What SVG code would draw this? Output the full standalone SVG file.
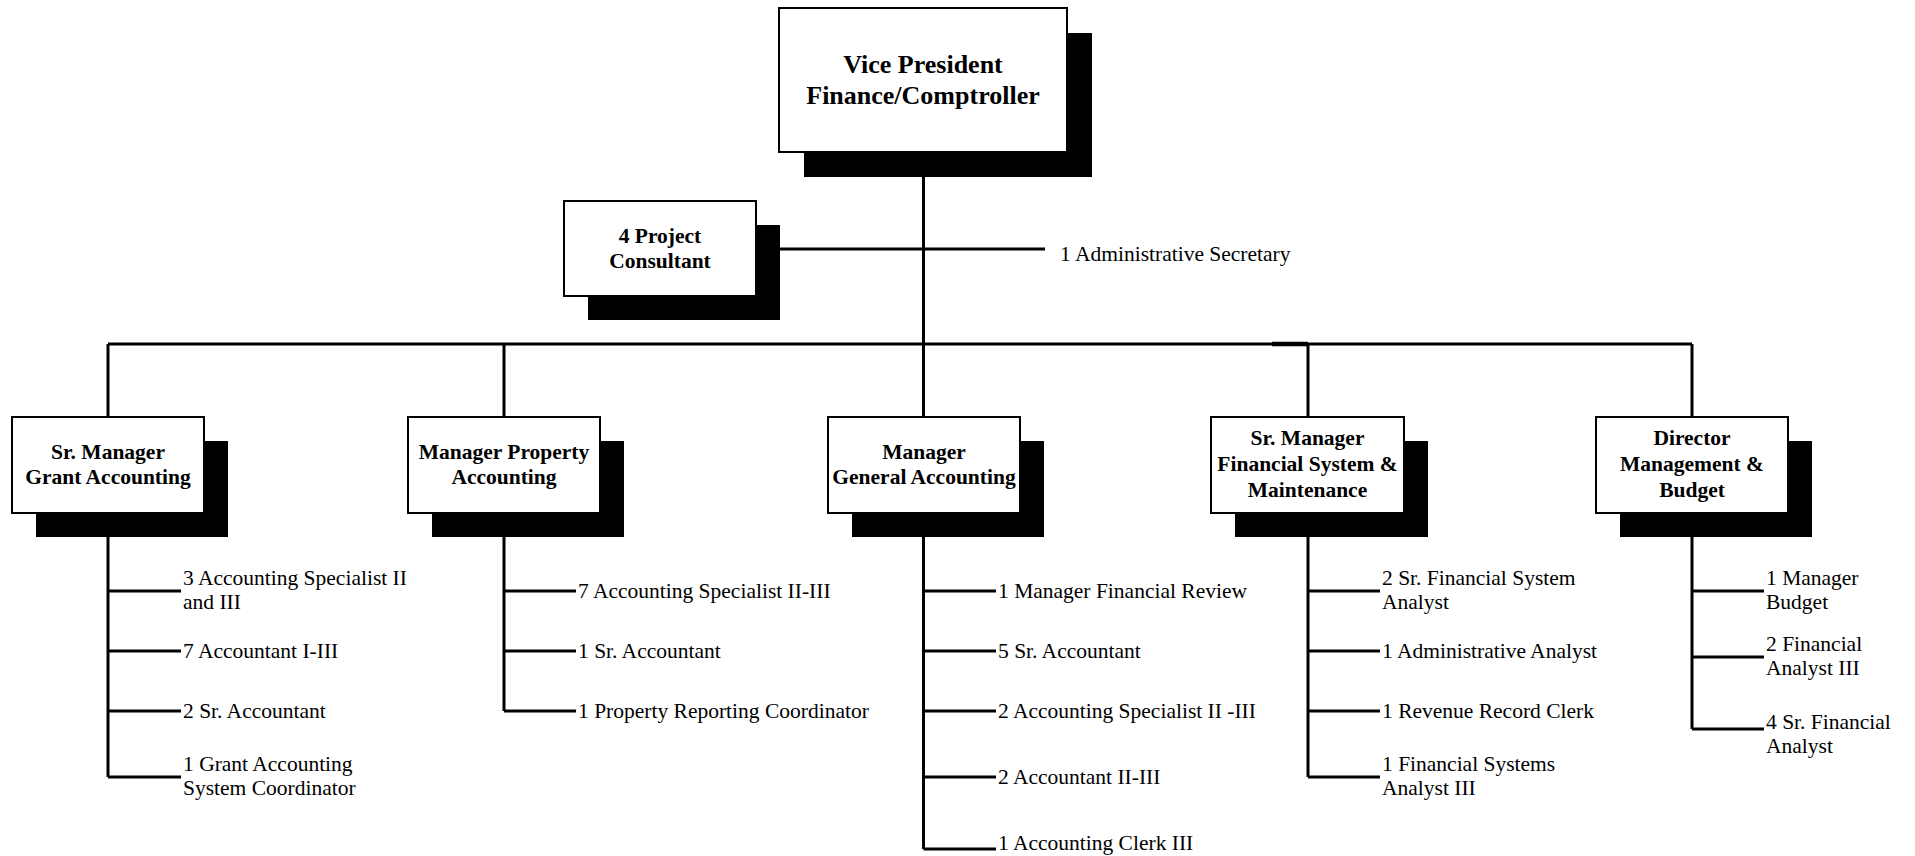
<svg xmlns="http://www.w3.org/2000/svg" width="1915" height="856" viewBox="0 0 1915 856">
  <style>
    .box { fill: #ffffff; stroke: #000000; stroke-width: 2; }
    .shadow { fill: #000000; }
    .line { fill: none; stroke: #000000; stroke-width: 3; stroke-linecap: butt; }
    .title { font-family: "Liberation Serif", "Times New Roman", serif; font-weight: bold; font-size: 21.5px; fill: #000; text-anchor: middle; }
    .top { font-size: 26px; }
    .item { font-family: "Liberation Serif", "Times New Roman", serif; font-size: 21.5px; fill: #000; }
  </style>
  <rect width="1915" height="856" fill="#ffffff"/>

  <!-- connectors -->
  <g id="connectors">
    <path class="line" d="M923.5 152 V344"/>
    <path class="line" d="M780 249 H1045"/>
    <path class="line" d="M108 344 H1692"/>
    <path class="line" style="stroke-width:4.5" d="M1272 344 H1308"/>
    <path class="line" d="M108 344 V417 M504 344 V417 M923.5 344 V417 M1308 344 V417 M1692 344 V417"/>
    <!-- Grant Accounting staff -->
    <path class="line" d="M108 513 V777 M108 591 H181 M108 651 H181 M108 711 H181 M108 777 H181"/>
    <!-- Property Accounting staff -->
    <path class="line" d="M504 513 V711 M504 591 H576 M504 651 H576 M504 711 H576"/>
    <!-- General Accounting staff -->
    <path class="line" d="M923.5 513 V849 M923.5 591 H996 M923.5 651 H996 M923.5 711 H996 M923.5 777 H996 M923.5 849 H996"/>
    <!-- Financial System staff -->
    <path class="line" d="M1308 513 V777 M1308 591 H1380 M1308 651 H1380 M1308 711 H1380 M1308 777 H1380"/>
    <!-- Management & Budget staff -->
    <path class="line" d="M1692 513 V729 M1692 591 H1764 M1692 657 H1764 M1692 729 H1764"/>
  </g>

  <g id="vp">
    <rect class="shadow" x="804" y="33" width="288" height="144"/>
    <rect class="box" x="779" y="8" width="288" height="144"/>
    <text class="title top" x="923" y="73">Vice President</text>
    <text class="title top" x="923" y="104">Finance/Comptroller</text>
  </g>

  <g id="project-consultant">
    <rect class="shadow" x="588" y="225" width="192" height="95"/>
    <rect class="box" x="564" y="201" width="192" height="95"/>
    <text class="title" x="660" y="243">4 Project</text>
    <text class="title" x="660" y="268">Consultant</text>
  </g>

  <g id="admin-secretary">
    <text class="item" x="1060" y="261">1 Administrative Secretary</text>
  </g>

  <g id="grant-accounting">
    <rect class="shadow" x="36" y="441" width="192" height="96"/>
    <rect class="box" x="12" y="417" width="192" height="96"/>
    <text class="title" x="108" y="459">Sr. Manager</text>
    <text class="title" x="108" y="484">Grant Accounting</text>
    <text class="item" x="183" y="585">3 Accounting Specialist II</text>
    <text class="item" x="183" y="609">and III</text>
    <text class="item" x="183" y="658">7 Accountant I-III</text>
    <text class="item" x="183" y="718">2 Sr. Accountant</text>
    <text class="item" x="183" y="771">1 Grant Accounting</text>
    <text class="item" x="183" y="795">System Coordinator</text>
  </g>

  <g id="property-accounting">
    <rect class="shadow" x="432" y="441" width="192" height="96"/>
    <rect class="box" x="408" y="417" width="192" height="96"/>
    <text class="title" x="504" y="459">Manager Property</text>
    <text class="title" x="504" y="484">Accounting</text>
    <text class="item" x="578" y="598">7 Accounting Specialist II-III</text>
    <text class="item" x="578" y="658">1 Sr. Accountant</text>
    <text class="item" x="578" y="718">1 Property Reporting Coordinator</text>
  </g>

  <g id="general-accounting">
    <rect class="shadow" x="852" y="441" width="192" height="96"/>
    <rect class="box" x="828" y="417" width="192" height="96"/>
    <text class="title" x="924" y="459">Manager</text>
    <text class="title" x="924" y="484">General Accounting</text>
    <text class="item" x="998" y="598">1 Manager Financial Review</text>
    <text class="item" x="998" y="658">5 Sr. Accountant</text>
    <text class="item" x="998" y="718">2 Accounting Specialist II -III</text>
    <text class="item" x="998" y="784">2 Accountant II-III</text>
    <text class="item" x="998" y="850">1 Accounting Clerk III</text>
  </g>

  <g id="financial-system">
    <rect class="shadow" x="1235" y="441" width="193" height="96"/>
    <rect class="box" x="1211" y="417" width="193" height="96"/>
    <text class="title" x="1307.5" y="445">Sr. Manager</text>
    <text class="title" x="1307.5" y="471">Financial System &amp;</text>
    <text class="title" x="1307.5" y="497">Maintenance</text>
    <text class="item" x="1382" y="585">2 Sr. Financial System</text>
    <text class="item" x="1382" y="609">Analyst</text>
    <text class="item" x="1382" y="658">1 Administrative Analyst</text>
    <text class="item" x="1382" y="718">1 Revenue Record Clerk</text>
    <text class="item" x="1382" y="771">1 Financial Systems</text>
    <text class="item" x="1382" y="795">Analyst III</text>
  </g>

  <g id="management-budget">
    <rect class="shadow" x="1620" y="441" width="192" height="96"/>
    <rect class="box" x="1596" y="417" width="192" height="96"/>
    <text class="title" x="1692" y="445">Director</text>
    <text class="title" x="1692" y="471">Management &amp;</text>
    <text class="title" x="1692" y="497">Budget</text>
    <text class="item" x="1766" y="585">1 Manager</text>
    <text class="item" x="1766" y="609">Budget</text>
    <text class="item" x="1766" y="651">2 Financial</text>
    <text class="item" x="1766" y="675">Analyst III</text>
    <text class="item" x="1766" y="729">4 Sr. Financial</text>
    <text class="item" x="1766" y="753">Analyst</text>
  </g>
</svg>
